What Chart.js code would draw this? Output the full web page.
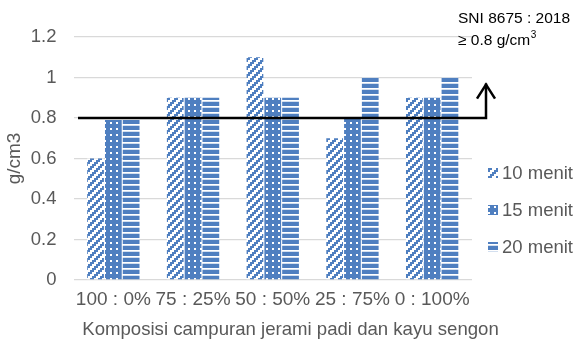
<!DOCTYPE html>
<html>
<head>
<meta charset="utf-8">
<script src="https://cdn.jsdelivr.net/npm/chart.js@4"></script>
<style>
  html, body { margin: 0; padding: 0; background: #ffffff; }
  #wrap { width: 576px; height: 342px; position: relative; }
</style>
</head>
<body>
<div id="wrap"><canvas id="c" width="576" height="342"></canvas></div>
<script>
// Density of the boards by composition and pressing time
const categories = ['100 : 0%', '75 : 25%', '50 : 50%', '25 : 75%', '0 : 100%'];
const seriesNames = ['10 menit', '15 menit', '20 menit'];
const menit10 = [0.6, 0.9, 1.1, 0.7, 0.9];
const menit15 = [0.79, 0.9, 0.9, 0.8, 0.9];
const menit20 = [0.79, 0.9, 0.9, 1.0, 1.0];
const yTicks = [0, 0.2, 0.4, 0.6, 0.8, 1, 1.2];
const xTitle = 'Komposisi campuran jerami padi dan kayu sengon';
const sniMinimum = 0.8;          // SNI 8675 : 2018 requirement
const arrowTop = 0.97;           // where the requirement arrow points to

const BLUE = '#4f7fc0';
const FONT = '"Liberation Sans", Arial, sans-serif';
const GREY = '#595959';

function makePattern(size, painter) {
  const cv = document.createElement('canvas');
  cv.width = size; cv.height = size;
  const g = cv.getContext('2d');
  g.fillStyle = '#ffffff';
  g.fillRect(0, 0, size, size);
  g.fillStyle = BLUE;
  painter(g, size);
  return document.getElementById('c').getContext('2d').createPattern(cv, 'repeat');
}

// wide upward diagonal, drawn as 2px steps
const patDiag = makePattern(8, (g, s) => {
  for (let y = 0; y < s; y++)
    for (let x = 0; x < s; x++)
      if ((x + 2 * Math.floor(y / 2)) % s < 4) g.fillRect(x, y, 1, 1);
});
// solid with small white squares
const patDots = makePattern(6, (g, s) => {
  g.fillRect(0, 0, s, s);
  g.fillStyle = '#ffffff';
  g.fillRect(2, 2, 2, 2);
});
// horizontal stripes
const patStripes = makePattern(6, (g, s) => {
  g.fillRect(0, 0, s, 4);
  g.fillStyle = 'rgba(79,127,192,0.25)';
  g.fillRect(0, 5, s, 1);
});

const patterns = [patDiag, patDots, patStripes];

const requirementLine = {
  id: 'requirementLine',
  afterDatasetsDraw(chart) {
    const { ctx, chartArea, scales } = chart;
    const y = scales.y.getPixelForValue(sniMinimum);
    const yTop = scales.y.getPixelForValue(arrowTop);
    const x0 = chartArea.left + 4.5;
    const x1 = chartArea.right + 14;
    ctx.save();
    ctx.strokeStyle = '#000000';
    ctx.lineWidth = 2.5;
    ctx.lineJoin = 'miter';
    ctx.beginPath();
    ctx.moveTo(x0, y);
    ctx.lineTo(x1, y);
    ctx.lineTo(x1, yTop);
    ctx.stroke();
    ctx.beginPath();
    ctx.moveTo(x1 - 9, yTop + 15);
    ctx.lineTo(x1, yTop + 1);
    ctx.lineTo(x1 + 9, yTop + 15);
    ctx.stroke();

    // requirement caption
    ctx.fillStyle = '#000000';
    ctx.textBaseline = 'alphabetic';
    ctx.textAlign = 'left';
    ctx.font = '15.5px ' + FONT;
    ctx.fillText('SNI 8675 : 2018', 458, 23);
    const line2 = '\u2265 0.8 g/cm';
    ctx.fillText(line2, 458, 45);
    const w = ctx.measureText(line2).width;
    ctx.font = '10px ' + FONT;
    ctx.fillText('3', 458 + w + 0.5, 38);
    ctx.restore();
  }
};

const sideTexts = {
  id: 'sideTexts',
  afterDraw(chart) {
    const { ctx } = chart;
    const rows = [173, 210, 247];
    ctx.save();
    chart.data.datasets.forEach((ds, i) => {
      const cy = rows[i];
      ctx.fillStyle = ds.backgroundColor;
      ctx.fillRect(488, cy - 5, 10, 10);
      ctx.fillStyle = GREY;
      ctx.font = '18.5px ' + FONT;
      ctx.textBaseline = 'middle';
      ctx.textAlign = 'left';
      ctx.fillText(ds.label, 502, cy + 1);
    });
    // category axis title, centred across the whole figure
    ctx.font = '18.6px ' + FONT;
    ctx.textAlign = 'center';
    ctx.textBaseline = 'middle';
    ctx.fillStyle = GREY;
    ctx.fillText(xTitle, 290.5, 330);
    ctx.restore();
  }
};

new Chart(document.getElementById('c'), {
  type: 'bar',
  data: {
    labels: categories,
    datasets: [menit10, menit15, menit20].map((vals, i) => ({
      label: seriesNames[i],
      data: vals,
      backgroundColor: patterns[i],
      borderWidth: 0,
      categoryPercentage: 0.67,
      barPercentage: 0.94
    }))
  },
  options: {
    responsive: false,
    animation: false,
    devicePixelRatio: 1,
    layout: { padding: { left: 0, right: 104, top: 37, bottom: 0 } },
    plugins: {
      legend: { display: false },
      tooltip: { enabled: false }
    },
    scales: {
      x: {
        grid: { display: false, drawTicks: false },
        border: { display: false },
        ticks: {
          color: GREY,
          font: { family: FONT, size: 19 },
          padding: 8,
          maxRotation: 0,
          autoSkip: false
        },
        afterFit(scale) { scale.height = 62; }
      },
      y: {
        min: 0,
        max: 1.2,
        afterBuildTicks(scale) { scale.ticks = yTicks.map(v => ({ value: v })); },
        grid: { color: '#d9d9d9', lineWidth: 1.3, drawTicks: false },
        border: { display: false },
        ticks: {
          color: GREY,
          font: { family: FONT, size: 18.5 },
          padding: 17,
          callback: v => String(v)
        },
        title: {
          display: true,
          text: 'g/cm3',
          color: GREY,
          font: { family: FONT, size: 19 },
          padding: { top: 3.6, bottom: 0 }
        },
        afterFit(scale) { scale.width = 73.5; }
      }
    }
  },
  plugins: [requirementLine, sideTexts]
});
</script>
</body>
</html>
